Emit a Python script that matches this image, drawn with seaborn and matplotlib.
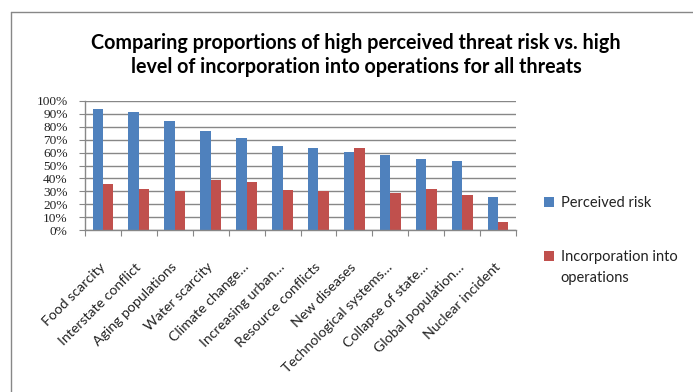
import matplotlib
matplotlib.use("Agg")
import matplotlib.pyplot as plt
from matplotlib.lines import Line2D
from matplotlib.patches import Patch, Rectangle
from matplotlib.legend_handler import HandlerPatch
import numpy as np
import pandas as pd
import seaborn as sns

# Threat categories and the two measured proportions (%)
threats = [
    "Food scarcity", "Interstate conflict", "Aging populations", "Water scarcity",
    "Climate change…", "Increasing urban…", "Resource conflicts", "New diseases",
    "Technological systems…", "Collapse of state…", "Global population…",
    "Nuclear incident",
]
perceived_risk = [93.5, 91, 84, 76.5, 71, 65, 63.5, 60.5, 58, 55, 53.5, 25.5]
incorporation = [35.5, 32, 30.5, 38.5, 37.5, 31, 30.5, 63.5, 29, 32, 27.5, 6.5]
series_names = ["Perceived risk", "Incorporation into\noperations"]
y_ticks = [0, 10, 20, 30, 40, 50, 60, 70, 80, 90, 100]
y_tick_labels = [f"{v}%" for v in y_ticks]

BLUE = "#4F81BD"
RED = "#C0504D"
GRID = "#878787"

df = pd.DataFrame({
    "threat": threats * 2,
    "value": perceived_risk + incorporation,
    "series": [series_names[0]] * len(threats) + [series_names[1]] * len(threats),
})

sns.set_theme(style="white")
plt.rcParams["font.family"] = ["Lato", "DejaVu Sans"]

W, H = 693, 392
fig = plt.figure(figsize=(W / 100, H / 100), dpi=100)
fig.patch.set_facecolor("white")

# plot area in pixels: x 85..516, y 100.7..230.3
left, right, top, bottom = 85, 516, 100.7, 230.3
ax = fig.add_axes([left / W, 1 - bottom / H, (right - left) / W, (bottom - top) / H])

sns.barplot(data=df, x="threat", y="value", hue="series",
            palette=[BLUE, RED], saturation=1, width=0.58,
            legend=False, ax=ax, linewidth=0)

ax.set_xlim(-0.5, len(threats) - 0.5)
ax.set_ylim(0, 100)
ax.set_xlabel("")
ax.set_ylabel("")

# horizontal gridlines
ax.set_yticks(y_ticks)
ax.set_yticklabels(y_tick_labels, family=["Liberation Serif"], fontsize=9.6,
                   color="#222222")
ax.yaxis.grid(True, color=GRID, linewidth=1.0)
ax.set_axisbelow(True)
ax.tick_params(axis="y", direction="out", length=4.5, width=0.8, color=GRID,
               pad=8, left=True)

# category labels at centres, tick marks at category boundaries
ax.set_xticks(range(len(threats)))
ax.set_xticklabels(threats, rotation=45, ha="right", va="center",
                   rotation_mode="anchor", fontsize=10.2, color="#222222")
ax.set_xticks(np.arange(-0.5, len(threats), 1), minor=True)
ax.tick_params(axis="x", which="major", length=0, pad=25)
ax.tick_params(axis="x", which="minor", direction="out", length=4, width=0.8,
               color=GRID, bottom=True)

for side in ["top", "right"]:
    ax.spines[side].set_visible(False)
for side in ["left", "bottom"]:
    ax.spines[side].set_color(GRID)
    ax.spines[side].set_linewidth(1.0)

# title
fig.text(356 / W, 1 - 55 / H,
         "Comparing proportions of high perceived threat risk vs. high\n"
         "level of incorporation into operations for all threats",
         ha="center", va="center", fontsize=14.2, fontweight="bold",
         linespacing=1.25, color="black")


# legend: the red key sits beside the first line of its two-line label
def first_line_patch(legend, orig_handle, xdescent, ydescent, width, height, fontsize):
    return Rectangle((-xdescent, -ydescent + 8.5), width, height)


handles = [Patch(facecolor=BLUE, edgecolor="none"), Patch(facecolor=RED, edgecolor="none")]
leg = fig.legend(handles, series_names, loc="upper left",
                 bbox_to_anchor=(538 / W, 1 - 190 / H), frameon=False,
                 fontsize=10.5, handlelength=0.7, handleheight=0.7,
                 handletextpad=0.45, labelspacing=2.75, borderaxespad=0,
                 handler_map={handles[1]: HandlerPatch(patch_func=first_line_patch)})
for t in leg.get_texts():
    t.set_linespacing(1.6)
    t.set_color("#222222")

# outer chart frame (top and left edges visible)
fig.add_artist(Line2D([11 / W, 1], [1 - 12 / H, 1 - 12 / H], color=GRID, linewidth=1.0,
                      transform=fig.transFigure))
fig.add_artist(Line2D([11 / W, 11 / W], [0, 1 - 12 / H], color=GRID, linewidth=1.0,
                      transform=fig.transFigure))

fig.savefig("out.png", dpi=100, facecolor="white")
